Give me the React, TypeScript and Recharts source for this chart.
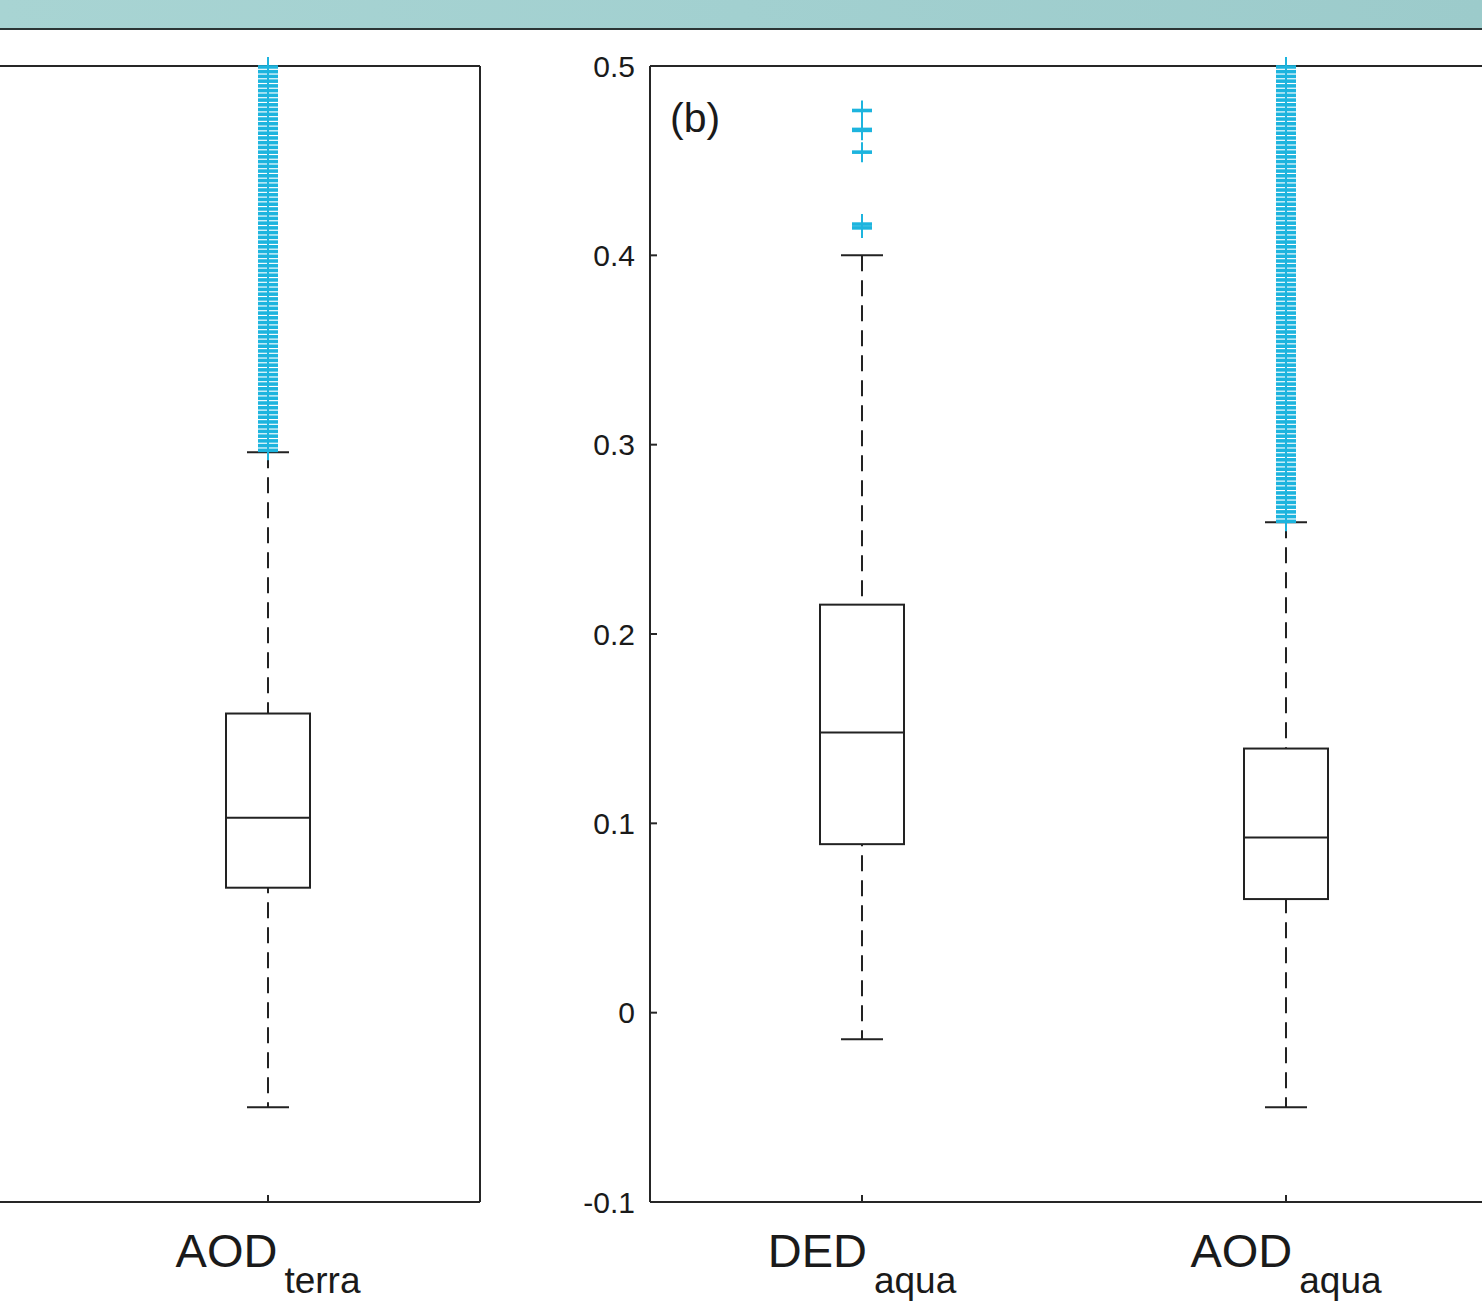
import React from "react";
import { ComposedChart, Bar, Scatter, XAxis, YAxis } from "recharts";

const FONT = "'Liberation Sans', Arial, sans-serif";
const AXIS = "#262626";
const BOX = "#222222";
const CYAN = "#1db4de";

// panel (a) only shows its second category on screen
const terraCats = ["AOD_terra"];
const terraLow = [-0.05];
const terraQ1 = [0.066];
const terraMed = [0.103];
const terraQ3 = [0.158];
const terraHigh = [0.296];

// panel (b)
const aquaCats = ["DED_aqua", "AOD_aqua"];
const aquaLow = [-0.014, -0.05];
const aquaQ1 = [0.089, 0.06];
const aquaMed = [0.148, 0.0925];
const aquaQ3 = [0.2155, 0.1395];
const aquaHigh = [0.4, 0.259];

const aodTerraOutliers = [
  0.297, 0.2995, 0.302, 0.3045, 0.307, 0.3095, 0.312, 0.3145, 0.317, 0.3195,
  0.322, 0.3245, 0.327, 0.3295, 0.332, 0.3345, 0.337, 0.3395, 0.342, 0.3445,
  0.347, 0.3495, 0.352, 0.3545, 0.357, 0.3595, 0.362, 0.3645, 0.367, 0.3695,
  0.372, 0.3745, 0.377, 0.3795, 0.382, 0.3845, 0.387, 0.3895, 0.392, 0.3945,
  0.397, 0.3995, 0.402, 0.4045, 0.407, 0.4095, 0.412, 0.4145, 0.417, 0.4195,
  0.422, 0.4245, 0.427, 0.4295, 0.432, 0.4345, 0.437, 0.4395, 0.442, 0.4445,
  0.447, 0.4495, 0.452, 0.4545, 0.457, 0.4595, 0.462, 0.4645, 0.467, 0.4695,
  0.472, 0.4745, 0.477, 0.4795, 0.482, 0.4845, 0.487, 0.4895, 0.492, 0.4945,
  0.497, 0.4995,
];
const dedAquaOutliers = [0.4765, 0.4665, 0.466, 0.4545, 0.4165, 0.4145];
const aodAquaOutliers = [
  0.2595, 0.262, 0.2645, 0.267, 0.2695, 0.272, 0.2745, 0.277, 0.2795, 0.282,
  0.2845, 0.287, 0.2895, 0.292, 0.2945, 0.297, 0.2995, 0.302, 0.3045, 0.307,
  0.3095, 0.312, 0.3145, 0.317, 0.3195, 0.322, 0.3245, 0.327, 0.3295, 0.332,
  0.3345, 0.337, 0.3395, 0.342, 0.3445, 0.347, 0.3495, 0.352, 0.3545, 0.357,
  0.3595, 0.362, 0.3645, 0.367, 0.3695, 0.372, 0.3745, 0.377, 0.3795, 0.382,
  0.3845, 0.387, 0.3895, 0.392, 0.3945, 0.397, 0.3995, 0.402, 0.4045, 0.407,
  0.4095, 0.412, 0.4145, 0.417, 0.4195, 0.422, 0.4245, 0.427, 0.4295, 0.432,
  0.4345, 0.437, 0.4395, 0.442, 0.4445, 0.447, 0.4495, 0.452, 0.4545, 0.457,
  0.4595, 0.462, 0.4645, 0.467, 0.4695, 0.472, 0.4745, 0.477, 0.4795, 0.482,
  0.4845, 0.487, 0.4895, 0.492, 0.4945, 0.497, 0.4995,
];

const yTicks = [-0.1, 0, 0.1, 0.2, 0.3, 0.4, 0.5];

type Row = { name: string; low: number; q1: number; med: number; q3: number; high: number };

const buildRows = (cats: string[], low: number[], q1: number[], med: number[], q3: number[], high: number[]): Row[] =>
  cats.map((name, i) => ({ name, low: low[i], q1: q1[i], med: med[i], q3: q3[i], high: high[i] }));

const terraRows = buildRows(terraCats, terraLow, terraQ1, terraMed, terraQ3, terraHigh);
const aquaRows = buildRows(aquaCats, aquaLow, aquaQ1, aquaMed, aquaQ3, aquaHigh);

const terraOut = aodTerraOutliers.map((v) => ({ name: "AOD_terra", v }));
const aquaOut = [
  ...dedAquaOutliers.map((v) => ({ name: "DED_aqua", v })),
  ...aodAquaOutliers.map((v) => ({ name: "AOD_aqua", v })),
];

function CatTick({ x, y, payload }: any) {
  const [base, sub] = String(payload.value).split("_");
  return (
    <text x={x} y={y} textAnchor="middle" fill="#1a1a1a" fontFamily={FONT}>
      <tspan fontSize={47}>{base}</tspan>
      <tspan fontSize={37} dx={7} dy={26}>
        {sub}
      </tspan>
    </text>
  );
}

function WhiskerShape(p: any) {
  const { x, y, width, height } = p;
  const top = Math.min(y, y + height);
  const bot = Math.max(y, y + height);
  const cx = x + width / 2;
  return (
    <g stroke={BOX} strokeWidth={2}>
      <line x1={cx} x2={cx} y1={top} y2={bot} strokeDasharray="16 9" />
      <line x1={x} x2={x + width} y1={top} y2={top} />
      <line x1={x} x2={x + width} y1={bot} y2={bot} />
    </g>
  );
}

function BoxShape(p: any) {
  const { x, y, width, height } = p;
  return (
    <rect
      x={x}
      y={Math.min(y, y + height)}
      width={width}
      height={Math.abs(height)}
      fill="#fff"
      stroke={BOX}
      strokeWidth={2}
    />
  );
}

function MedianShape({ cx, cy }: any) {
  return <line x1={cx - 42} x2={cx + 42} y1={cy} y2={cy} stroke={BOX} strokeWidth={2} />;
}

function PlusShape({ cx, cy }: any) {
  return (
    <g stroke={CYAN} strokeWidth={3.6}>
      <line x1={cx - 10} x2={cx + 10} y1={cy} y2={cy} />
      <line x1={cx} x2={cx} y1={cy - 10} y2={cy + 10} strokeWidth={2} />
    </g>
  );
}

type PanelProps = {
  rows: Row[];
  outliers: { name: string; v: number }[];
  left: number;
  padLeft: number;
  showYLabels: boolean;
};

function Panel({ rows, outliers, left, padLeft, showYLabels }: PanelProps) {
  const pad = { left: padLeft, right: 0 };
  const line = { stroke: AXIS, strokeWidth: 2 };
  return (
    <div style={{ position: "absolute", left, top: 0 }}>
      <ComposedChart width={968} height={1304} data={rows} margin={{ top: 65, right: 19, bottom: 0, left: 0 }}>
        <XAxis
          xAxisId="cat"
          dataKey="name"
          height={102}
          padding={pad}
          tickSize={-7}
          tickMargin={72}
          tick={<CatTick />}
          axisLine={line}
          tickLine={line}
        />
        <XAxis xAxisId="box" dataKey="name" hide height={0} padding={pad} />
        <XAxis xAxisId="out" dataKey="name" hide height={0} padding={pad} allowDuplicatedCategory={false} />
        <XAxis
          xAxisId="top"
          orientation="top"
          dataKey="name"
          height={1}
          padding={pad}
          tick={false}
          tickSize={-7}
          axisLine={line}
          tickLine={line}
        />
        <YAxis
          type="number"
          width={100}
          domain={[-0.1, 0.5]}
          ticks={yTicks}
          interval={0}
          tickSize={-7}
          tickMargin={22}
          tick={showYLabels ? { fontSize: 30, fill: "#1a1a1a", fontFamily: FONT } : false}
          axisLine={line}
          tickLine={line}
        />
        <YAxis
          yAxisId="r"
          orientation="right"
          type="number"
          width={1}
          domain={[-0.1, 0.5]}
          ticks={yTicks}
          interval={0}
          tick={false}
          tickSize={-7}
          axisLine={line}
          tickLine={line}
        />
        <Bar
          xAxisId="cat"
          dataKey={(d: Row) => [d.low, d.high]}
          barSize={42}
          shape={WhiskerShape}
          isAnimationActive={false}
        />
        <Bar
          xAxisId="box"
          yAxisId="r"
          dataKey={(d: Row) => [d.q1, d.q3]}
          barSize={84}
          shape={BoxShape}
          isAnimationActive={false}
        />
        <Scatter xAxisId="top" dataKey="med" shape={MedianShape} isAnimationActive={false} />
        <Scatter xAxisId="out" data={outliers} dataKey="v" shape={PlusShape} isAnimationActive={false} />
      </ComposedChart>
    </div>
  );
}

export default function App() {
  return (
    <div
      style={{
        position: "absolute",
        left: 0,
        top: 0,
        width: 1482,
        height: 1304,
        overflow: "hidden",
        background: "#fff",
      }}
    >
      <Panel rows={terraRows} outliers={terraOut} left={-468} padLeft={424} showYLabels={false} />
      <Panel rows={aquaRows} outliers={aquaOut} left={550} padLeft={0} showYLabels />
      <div
        style={{
          position: "absolute",
          left: 670,
          top: 98,
          fontFamily: FONT,
          fontSize: 41,
          lineHeight: 1,
          color: "#1a1a1a",
        }}
      >
        (b)
      </div>
      <div
        style={{
          position: "absolute",
          left: 0,
          top: 0,
          width: 1482,
          height: 28,
          background: "linear-gradient(90deg, #a8d4d3 0%, #a2d0d0 50%, #9ccbcb 100%)",
          borderBottom: "2px solid #2b3535",
        }}
      />
    </div>
  );
}
